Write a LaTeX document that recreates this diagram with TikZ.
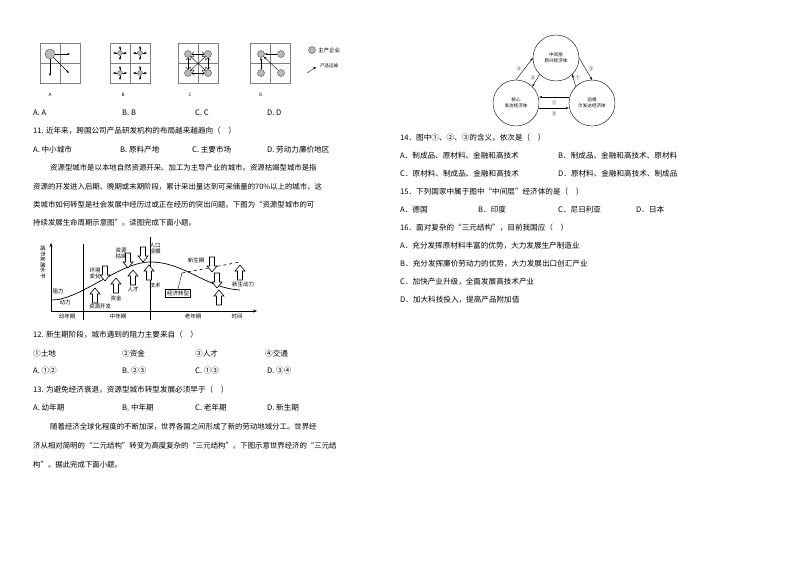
\documentclass[tikz,border=0pt]{standalone}
\usepackage{fontspec}
\setmainfont{Noto Sans CJK SC}
\usetikzlibrary{arrows.meta,positioning}
\tikzset{
  txt/.style={anchor=west,inner sep=0pt,font=\fontsize{7.6}{9}\selectfont},
  par/.style={anchor=west,inner sep=0pt,font=\fontsize{7.4}{9}\selectfont},
  small/.style={inner sep=0pt,font=\fontsize{5.5}{6}\selectfont},
  tiny/.style={inner sep=0pt,font=\fontsize{4.5}{5}\selectfont},
  firm/.style={circle,draw=gray!60!black,fill=gray!55,minimum size=7pt,inner sep=0pt},
  econ/.style={circle,draw,minimum size=46pt,inner sep=0pt,align=center,font=\fontsize{4.6}{5.6}\selectfont},
  flow/.style={-{Stealth[length=3pt]},thin},
  hollow/.style={draw,fill=white,line width=0.6pt}
}
\newcommand\uparr[2]{\draw[hollow] (#1,#2) -- ++(-5,6) -- ++(2.5,0) -- ++(0,9) -- ++(5,0) -- ++(0,-9) -- ++(2.5,0) -- cycle;}
\newcommand\downarr[2]{\draw[hollow] (#1,#2) -- ++(-5,-6) -- ++(2.5,0) -- ++(0,-9) -- ++(5,0) -- ++(0,9) -- ++(2.5,0) -- cycle;}
\begin{document}
\begin{tikzpicture}[x=1pt,y=-1pt]
\useasboundingbox[fill=white] (0,0) rectangle (794,560);
% location patterns
\foreach \x in {40,110,178,250}{
  \draw[gray] (\x,43) rectangle ++(40,40);
  \draw[gray] (\x+20,43) -- ++(0,40);
  \draw[gray] (\x,63) -- ++(40,0);
}
\node[firm,minimum size=10pt] (a1) at (50,54) {};
\draw[flow] (a1) -- (70,54);
\draw[flow] (a1) -- (50,76);
\draw[flow] (a1) -- (69,73);
\foreach \x/\y [count=\i] in {120/53,140/53,120/73,140/73}{
  \node[firm,minimum size=5pt] (b\i) at (\x,\y) {};
  \draw[flow] (b\i) -- ++(7,0);
  \draw[flow] (b\i) -- ++(-7,0);
  \draw[flow] (b\i) -- ++(0,7);
  \draw[flow] (b\i) -- ++(0,-7);
}
\node[firm] (c1) at (188,54) {};
\node[firm] (c2) at (208,54) {};
\node[firm] (c3) at (188,73) {};
\node[firm] (c4) at (208,73) {};
\draw[flow,<->] (c1) -- (c2);
\draw[flow,<->] (c3) -- (c4);
\draw[flow,<->] (c1) -- (c3);
\draw[flow,<->] (c2) -- (c4);
\draw[flow,<->] (c1) -- (c4);
\draw[flow,<->] (c2) -- (c3);
\node[firm] (d1) at (261,54) {};
\node[firm] (d2) at (281,54) {};
\node[firm] (d3) at (261,73) {};
\node[firm] (d4) at (281,73) {};
\draw[flow] (d2) -- (d1);
\draw[flow] (d3) -- (d1);
\draw[flow] (d4) -- (d1);
\node[firm] (lg1) at (312,50) {};
\node[small,anchor=west] (lgt1) at (318,50) {主产企业};
\coordinate (lg2) at (307,73);
\coordinate (lg3) at (316,67);
\draw[flow] (lg2) -- (lg3);
\node[tiny,anchor=west] (lgt2) at (320,66) {产品运输};
\node[tiny] (la) at (50,95) {A};
\node[tiny] (lb) at (123,95) {B};
\node[tiny] (lc) at (190,95) {C};
\node[tiny] (ld) at (261,95) {D};
\node[txt] (o10a) at (33,113) {A. A};
\node[txt] (o10b) at (122,113) {B. B};
\node[txt] (o10c) at (195,113) {C. C};
\node[txt] (o10d) at (267,113) {D. D};
\node[txt] (q11) at (33,131) {11. 近年来，跨国公司产品研发机构的布局越来越趋向（\quad）};
\node[txt] (o11a) at (33,150) {A. 中小城市};
\node[txt] (o11b) at (120,150) {B. 原料产地};
\node[txt] (o11c) at (192,150) {C. 主要市场};
\node[txt] (o11d) at (267,150) {D. 劳动力廉价地区};
\node[par] (p1) at (50,168) {资源型城市是以本地自然资源开采、加工为主导产业的城市。资源枯竭型城市是指};
\node[par] (p2) at (33,187) {资源的开发进入后期、晚期或末期阶段，累计采出量达到可采储量的70\%以上的城市，这};
\node[par] (p3) at (33,205) {类城市如何转型是社会发展中经历过或正在经历的突出问题。下图为“资源型城市的可};
\node[par] (p4) at (33,223) {持续发展生命周期示意图”。读图完成下面小题。};
% life cycle graph
\draw[-{Stealth[length=4pt]}] (51,311) -- (51,243);
\draw[-{Stealth[length=4pt]}] (51,311) -- (257,311);
\draw (83,244) -- (83,320);
\draw (150,237) -- (150,320);
\draw[line width=0.7pt] (52,300) .. controls (80,300) and (120,262) .. (150,262) .. controls (185,262) and (205,288) .. (240,290);
\draw[dashed,line width=0.6pt] (182,273) -- (240,262);
\node[small,rotate=-90] (ylab) at (43,262) {城市发展水平};
\node[small] (zl) at (58,291) {阻力};
\node[small] (dl) at (65,302) {动力};
\uparr{95}{288}
\uparr{116}{278}
\uparr{133}{270}
\uparr{149}{265}
\downarr{105}{281}
\downarr{128}{268}
\downarr{143}{262}
\downarr{212}{272}
\downarr{217}{288}
\uparr{219}{290}
\uparr{240}{265}
\node[small] (kf) at (100,306) {资源开发};
\node[small] (zj) at (116,298) {资金};
\node[small] (rc) at (133,289) {人才};
\node[small] (js) at (155,285) {技术};
\node[small,align=center] (hj) at (95,273) {环境\\变化};
\node[small,align=center] (kj) at (121,253) {资源\\枯竭};
\node[small,align=center] (rk) at (155,248) {人口\\规模};
\node[small] (xs) at (196,260) {新生期};
\node[small] (xd) at (243,284) {新生动力};
\node[small,draw,inner sep=1.5pt] (zx) at (178,293) {经济转型};
\coordinate (zp) at (182,273);
\draw (zx.north) -- (zp);
\node[small] (yn) at (67,316) {幼年期};
\node[small] (zn) at (118,316) {中年期};
\node[small] (ln) at (193,316) {老年期};
\node[small] (sj) at (237,316) {时间};
\node[txt] (q12) at (33,335) {12. 新生期阶段，城市遇到的阻力主要来自（\quad）};
\node[txt] (o12a) at (33,354) {①土地};
\node[txt] (o12b) at (122,354) {②资金};
\node[txt] (o12c) at (195,354) {③人才};
\node[txt] (o12d) at (265,354) {④交通};
\node[txt] (a12a) at (33,371) {A. ①②};
\node[txt] (a12b) at (122,371) {B. ②③};
\node[txt] (a12c) at (195,371) {C. ①③};
\node[txt] (a12d) at (267,371) {D. ③④};
\node[txt] (q13) at (33,390) {13. 为避免经济衰退，资源型城市转型发展必须早于（\quad）};
\node[txt] (o13a) at (33,408) {A. 幼年期};
\node[txt] (o13b) at (122,408) {B. 中年期};
\node[txt] (o13c) at (195,408) {C. 老年期};
\node[txt] (o13d) at (267,408) {D. 新生期};
\node[par] (r1) at (50,427) {随着经济全球化程度的不断加深，世界各国之间形成了新的劳动地域分工。世界经};
\node[par] (r2) at (33,446) {济从相对简明的“二元结构”转变为高度复杂的“三元结构”。下图示意世界经济的“三元结};
\node[par] (r3) at (33,465) {构”。据此完成下面小题。};
% three-tier structure
\node[econ] (mid) at (556,58) {中间层\\新兴经济体};
\node[econ] (core) at (516,103) {核心\\发达经济体};
\node[econ] (edge) at (592,103) {边缘\\欠发达经济体};
\draw[flow] (core.north) -- node[tiny,left=3pt] {③} (mid.west);
\draw[flow] (mid.south west) -- node[tiny,left=2pt,pos=0.3] {②} (core.north east);
\draw[flow] (edge.north west) -- node[tiny,right=2pt,pos=0.7] {①} (mid.south east);
\draw[flow] (mid.east) -- node[tiny,right=3pt] {②} (edge.north);
\draw[flow] ([yshift=-5pt]core.east) -- node[tiny,below=3pt] {③} ([yshift=-5pt]edge.west);
\draw[flow] ([yshift=6pt]edge.west) -- node[tiny,below=3pt] {①} ([yshift=6pt]core.east);
\node[txt] (q14) at (400,138) {14．图中①、②、③的含义，依次是（\quad）};
\node[txt] (o14a) at (400,156) {A．制成品、原材料、金融和高技术};
\node[txt] (o14b) at (558,156) {B．制成品、金融和高技术、原材料};
\node[txt] (o14c) at (400,174) {C．原材料、制成品、金融和高技术};
\node[txt] (o14d) at (558,174) {D．原材料、金融和高技术、制成品};
\node[txt] (q15) at (400,192) {15．下列国家中属于图中“中间层”经济体的是（\quad）};
\node[txt] (o15a) at (400,210) {A．德国};
\node[txt] (o15b) at (478,210) {B．印度};
\node[txt] (o15c) at (558,210) {C．尼日利亚};
\node[txt] (o15d) at (636,210) {D．日本};
\node[txt] (q16) at (400,228) {16．面对复杂的“三元结构”，目前我国应（\quad）};
\node[txt] (o16a) at (400,246) {A．充分发挥原材料丰富的优势，大力发展生产制造业};
\node[txt] (o16b) at (400,264) {B．充分发挥廉价劳动力的优势，大力发展出口创汇产业};
\node[txt] (o16c) at (400,282) {C．加快产业升级，全面发展高技术产业};
\node[txt] (o16d) at (400,300) {D．加大科技投入，提高产品附加值};
\end{tikzpicture}
\end{document}
